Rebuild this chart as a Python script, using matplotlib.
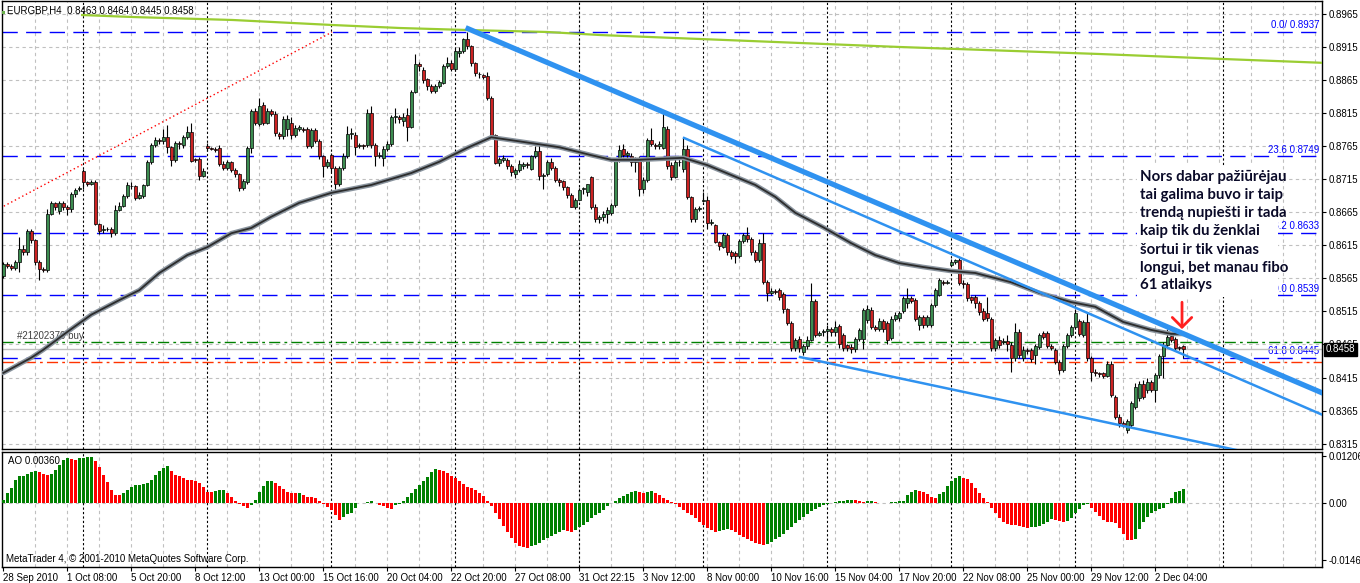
import numpy as np
import matplotlib
matplotlib.use("Agg")
import matplotlib.pyplot as plt
from matplotlib.patches import Rectangle

plt.rcParams['font.family'] = ['Liberation Sans', 'DejaVu Sans']

# ---- candle data, pips above 0.8000 (H4 bars, 28 Sep - 2 Dec 2010) ----
opens = [
    568, 587, 584, 581, 589, 609, 604, 636, 623, 590,
    579, 577, 662, 678, 666, 679, 673, 669, 692, 700,
    727, 710, 708, 711, 647, 638, 640, 640, 634, 668,
    674, 689, 704, 704, 687, 690, 706, 740, 767, 774,
    772, 779, 763, 743, 769, 766, 778, 786, 745, 745,
    720, 765, 762, 761, 762, 737, 731, 740, 729, 722,
    702, 710, 762, 818, 798, 827, 800, 817, 813, 783,
    780, 790, 800, 781, 791, 790, 790, 765, 789, 772,
    749, 734, 752, 731, 708, 731, 749, 783, 782, 765,
    766, 766, 814, 767, 750, 746, 760, 768, 808, 809,
    803, 812, 794, 847, 888, 880, 866, 855, 848, 855,
    860, 885, 890, 881, 905, 909, 926, 916, 890, 874,
    872, 870, 837, 782, 739, 744, 744, 735, 722, 728,
    735, 737, 730, 749, 758, 719, 722, 741, 732, 714,
    712, 703, 691, 673, 684, 700, 695, 718, 673, 655,
    657, 662, 663, 675, 744, 760, 752, 750, 740, 746,
    700, 713, 774, 767, 765, 762, 790, 736, 718, 741,
    730, 761, 688, 654, 670, 682, 684, 648, 645, 620,
    613, 630, 604, 603, 599, 622, 630, 624, 604, 593,
    619, 560, 543, 546, 547, 542, 518, 498, 459, 474,
    454, 462, 472, 530, 480, 484, 486, 488, 484, 493,
    479, 464, 461, 458, 473, 474, 502, 517, 492, 488,
    500, 497, 475, 504, 505, 515, 527, 535, 532, 494,
    507, 495, 494, 525, 540, 560, 558, 585, 590, 592,
    558, 556, 536, 536, 527, 516, 513, 504, 459, 472,
    468, 471, 464, 444, 484, 444, 457, 457, 449, 461,
    482, 482, 463, 457, 439, 426, 462, 479, 491, 500,
    479, 499, 444, 424, 422, 422, 418, 436, 386, 356,
    346, 336, 343, 371, 384, 406, 396, 409, 396, 419,
    447, 464, 478, 474, 461, 463]
closes = [
    587, 583, 581, 589, 609, 604, 636, 623, 590, 579,
    577, 662, 678, 673, 679, 673, 669, 692, 699, 701,
    710, 708, 710, 647, 636, 640, 639, 634, 668, 674,
    689, 706, 705, 687, 691, 706, 740, 767, 774, 773,
    778, 763, 744, 770, 768, 778, 786, 742, 744, 720,
    727, 762, 761, 759, 737, 731, 740, 729, 722, 702,
    712, 762, 818, 799, 825, 800, 817, 813, 784, 780,
    805, 806, 781, 792, 793, 789, 765, 789, 773, 749,
    734, 741, 731, 708, 731, 750, 783, 785, 764, 766,
    765, 814, 766, 750, 751, 760, 768, 808, 810, 806,
    809, 794, 847, 889, 886, 865, 855, 848, 855, 861,
    885, 890, 881, 908, 909, 926, 916, 890, 875, 873,
    869, 837, 782, 739, 745, 746, 735, 725, 728, 737,
    737, 736, 749, 758, 719, 721, 741, 732, 714, 710,
    703, 691, 673, 684, 698, 701, 707, 673, 655, 657,
    662, 668, 675, 744, 759, 751, 754, 740, 744, 700,
    713, 774, 768, 765, 768, 794, 734, 718, 741, 740,
    761, 688, 654, 669, 671, 684, 648, 650, 620, 614,
    630, 604, 599, 598, 622, 630, 624, 604, 593, 619,
    560, 543, 546, 545, 537, 518, 498, 459, 472, 459,
    462, 472, 530, 479, 483, 485, 488, 484, 492, 466,
    460, 460, 458, 473, 487, 517, 518, 492, 488, 500,
    488, 472, 504, 510, 512, 535, 535, 531, 504, 507,
    495, 506, 525, 547, 562, 558, 559, 590, 592, 558,
    556, 535, 532, 527, 514, 504, 505, 459, 472, 464,
    470, 465, 444, 484, 449, 457, 455, 443, 463, 479,
    477, 463, 460, 439, 426, 462, 479, 491, 512, 481,
    499, 444, 424, 422, 420, 418, 436, 389, 356, 346,
    344, 349, 376, 401, 406, 386, 409, 396, 419, 447,
    464, 477, 472, 460, 460, 458]
highs = [
    590, 590, 586, 592, 627, 615, 640, 640, 625, 592,
    582, 670, 682, 680, 682, 682, 676, 696, 702, 704,
    730, 712, 713, 714, 649, 645, 643, 642, 675, 680,
    693, 710, 710, 706, 695, 708, 744, 770, 778, 777,
    790, 797, 765, 773, 773, 781, 795, 800, 747, 748,
    731, 769, 764, 763, 766, 742, 744, 742, 732, 724,
    715, 765, 820, 822, 838, 832, 822, 820, 818, 786,
    810, 811, 808, 797, 797, 793, 794, 792, 792, 775,
    752, 745, 755, 735, 735, 755, 795, 792, 786, 770,
    768, 820, 825, 770, 756, 765, 772, 812, 822, 812,
    815, 822, 850, 904, 892, 884, 868, 858, 858, 864,
    888, 900, 895, 913, 915, 928, 937, 918, 892, 876,
    874, 877, 840, 783, 748, 751, 747, 738, 732, 744,
    741, 740, 752, 765, 770, 724, 744, 746, 735, 716,
    714, 705, 694, 686, 702, 703, 708, 720, 677, 660,
    666, 672, 678, 747, 766, 768, 758, 755, 748, 750,
    718, 777, 792, 770, 772, 817, 795, 740, 745, 746,
    778, 766, 690, 672, 674, 695, 690, 654, 647, 622,
    634, 633, 607, 606, 625, 634, 642, 627, 607, 625,
    634, 563, 550, 549, 550, 545, 520, 500, 475, 478,
    465, 478, 558, 533, 486, 489, 495, 492, 500, 496,
    482, 466, 465, 476, 490, 520, 525, 522, 494, 505,
    503, 500, 508, 514, 515, 538, 550, 538, 535, 510,
    510, 510, 528, 550, 565, 562, 562, 594, 594, 596,
    562, 559, 538, 540, 530, 520, 537, 506, 475, 478,
    475, 480, 468, 497, 488, 462, 460, 460, 466, 482,
    485, 485, 466, 460, 442, 466, 482, 494, 517, 503,
    502, 512, 447, 428, 424, 424, 440, 440, 389, 360,
    350, 352, 380, 407, 410, 412, 414, 412, 422, 451,
    468, 489, 481, 477, 463, 464]
lows = [
    565, 580, 578, 578, 575, 600, 600, 618, 585, 562,
    574, 574, 660, 668, 662, 668, 660, 665, 688, 697,
    700, 705, 706, 645, 632, 633, 636, 628, 630, 666,
    672, 687, 700, 684, 685, 686, 704, 737, 764, 768,
    768, 755, 735, 740, 760, 762, 775, 740, 740, 713,
    718, 758, 759, 756, 734, 728, 728, 725, 718, 697,
    698, 708, 755, 796, 795, 797, 798, 810, 780, 776,
    776, 780, 775, 778, 788, 786, 762, 762, 770, 745,
    718, 731, 725, 700, 705, 728, 747, 775, 752, 762,
    760, 763, 762, 735, 746, 735, 757, 765, 800, 800,
    795, 773, 792, 845, 878, 860, 850, 845, 845, 852,
    858, 882, 878, 878, 900, 905, 912, 886, 870, 868,
    866, 835, 780, 737, 735, 741, 730, 720, 716, 726,
    730, 732, 728, 747, 713, 700, 719, 728, 711, 704,
    699, 687, 672, 670, 683, 693, 690, 670, 650, 648,
    652, 648, 660, 672, 740, 748, 745, 735, 725, 690,
    694, 710, 765, 760, 760, 760, 730, 714, 716, 734,
    726, 685, 650, 650, 667, 680, 640, 645, 618, 608,
    610, 600, 594, 588, 596, 618, 620, 600, 590, 590,
    556, 530, 540, 541, 532, 513, 494, 455, 455, 454,
    449, 458, 470, 476, 478, 478, 470, 478, 478, 460,
    455, 455, 452, 454, 470, 458, 498, 488, 485, 485,
    484, 466, 472, 500, 500, 512, 520, 527, 500, 487,
    490, 492, 492, 522, 538, 555, 556, 583, 586, 555,
    550, 530, 528, 520, 510, 500, 500, 455, 455, 460,
    465, 455, 424, 440, 445, 440, 450, 438, 435, 458,
    474, 460, 456, 435, 420, 423, 459, 476, 488, 478,
    476, 440, 410, 418, 416, 414, 416, 386, 352, 340,
    340, 332, 340, 368, 380, 382, 392, 393, 378, 415,
    415, 460, 468, 456, 456, 445]

# Awesome Oscillator, in 1e-5
ao = [
    78, 269, 381, 581, 685, 702, 746, 789, 815, 789,
    746, 720, 746, 841, 988, 1118, 1162, 1140, 1118, 1150,
    1165, 1175, 1185, 1075, 928, 728, 529, 338, 208, 195,
    250, 321, 407, 451, 468, 478, 511, 598, 728, 815,
    902, 950, 815, 728, 685, 641, 600, 590, 555, 511,
    407, 295, 290, 320, 338, 345, 251, 147, 61, -26,
    -78, -139, -52, 78, 295, 442, 555, 560, 512, 425,
    355, 295, 250, 245, 255, 210, 165, 147, 120, 61,
    -35, -95, -182, -312, -442, -372, -286, -251, -139, -10,
    5, 35, 40, 0, -52, -70, -139, -165, -52,
    -20, 60, 150, 250, 350, 450, 560, 680, 800, 880,
    860, 820, 760, 700, 640, 560, 480, 420, 380, 330, 260, 180, 60, -80, -250,
    -420, -600, -760, -900, -1020, -1100, -1140, -1150,
    -1120, -1080, -1030, -960, -900, -850, -800, -760, -700, -720, -740, -690,
    -620, -560, -480, -400, -320, -250,
    -170, -90, -10, 60, 130, 190, 240, 280, 300, 280, 250, 270, 300, 260, 200,
    140, 80, 20, -40, -110, -180, -250, -320, -400, -480,
    -560, -640, -700, -740, -720, -690, -660, -700, -760, -820, -880, -940,
    -990, -1030, -1060, -1080, -1050, -1000, -940, -870, -790, -700,
    -610, -520, -430, -350, -280, -210, -150, -100, -60, -30, -5, 20, 40, 60,
    75, 85, 70, 50, 30, 40, 50, 30, 10, -10, 5, 20, 35, 45,
    61, 208, 295, 338, 312, 277, 234, 147, 120, 225, 295, 425, 555, 641, 685,
    641, 616, 511, 381, 251, 121, 35, -121, -251, -399, -485, -546, -572,
    -580, -590, -615, -633, -625, -620, -590, -530, -485, -425, -443, -468,
    -503, -460, -399, -269, -165, -52, -35, -121, -225, -338, -442, -485,
    -490, -529, -633, -789, -945, -962, -919, -659, -485, -355, -251, -208,
    -165, -140, -26, 121, 280, 320, 360]

# moving average (gray) read at bar positions
ma_idx = [0, 7, 10, 16, 22, 29, 34, 39, 46, 51, 57, 62, 67, 74, 82, 92, 102, 109,
          116, 122, 130, 139, 147, 152, 159, 170, 176, 182, 188, 193, 198, 205,
          212, 218, 224, 230, 237, 243, 252, 259, 267, 273, 280, 287, 292, 295]
ma_val = [422, 445, 457, 484, 510, 532, 547, 573, 600, 612, 633, 641, 658, 679,
          694, 706, 724, 741, 762, 778, 771, 763, 751, 744, 744, 747, 736, 721,
          706, 688, 664, 642, 618, 600, 588, 582, 576, 573, 559, 543, 529, 522,
          499, 487, 481, 481]

# long moving average (yellow-green)
slow_idx = [19.7, 32.4, 57.4, 82.4, 99.2, 115.9, 135.9, 149.2, 174.2, 186.7,
            224.2, 274.2, 304.9, 331.2]
slow_val = [962.7, 959.7, 955.2, 947.6, 943.1, 940.1, 937.1, 932.5, 926.5,
            923.5, 914.4, 903.8, 896.3, 890.2]

fib_levels = [0.8937, 0.8749, 0.8633, 0.8539, 0.8445]
fib_labels = ["0.0/ 0.8937", "23.6 0.8749", "38.2 0.8633", "50.0 0.8539", "61.8 0.8445"]

order_tp = 0.8468
order_open = 0.8438
bid = 0.8458

trend_thick = ([116.2, 329.7], [0.8942, 0.8392])
trend_upper = ([170.2, 329.7], [0.8777, 0.8359])
trend_lower = ([199.2, 329.7], [0.8446, 0.8278])
fib_diag = ([-0.8, 82.2], [0.8671, 0.8937])

separators = [20, 51, 82, 113, 144, 175, 206, 237, 268, 305]
time_ticks = list(range(0, 289, 16))
time_labels = ["28 Sep 2010", "1 Oct 08:00", "5 Oct 20:00", "8 Oct 12:00",
               "13 Oct 00:00", "15 Oct 16:00", "20 Oct 04:00", "22 Oct 20:00",
               "27 Oct 08:00", "31 Oct 22:15", "3 Nov 12:00", "8 Nov 00:00",
               "10 Nov 16:00", "15 Nov 04:00", "17 Nov 20:00", "22 Nov 08:00",
               "25 Nov 00:00", "29 Nov 12:00", "2 Dec 04:00"]
price_ticks = [0.8965, 0.8915, 0.8865, 0.8815, 0.8765, 0.8715, 0.8665, 0.8615,
               0.8565, 0.8515, 0.8465, 0.8415, 0.8365, 0.8315]
ao_ticks = [0.01206, 0.0, -0.01464]
ao_tick_labels = ["0.01206", "0.00", "-0.01464"]

note = ["Nors dabar pažiūrėjau", "tai galima buvo ir taip", "trendą nupiešti ir tada",
        "kaip tik du ženklai", "šortui ir tik vienas", "longui, bet manau fibo",
        "61 atlaikys"]

# ---------------------------------------------------------------
W, H = 1360, 583
def fx(px):
    return px / W
def fy(py):
    return 1 - py / H

def pip(v):
    return 0.8 + np.asarray(v, dtype=float) / 10000

o, c, hi, lo = pip(opens), pip(closes), pip(highs), pip(lows)
x = np.arange(len(o))

fig = plt.figure(figsize=(13.6, 5.83), dpi=100)
ax = fig.add_axes([fx(1.7), fy(449), fx(1322) - fx(1.7), fy(1) - fy(449)])
ax2 = fig.add_axes([fx(1.7), fy(566.5), fx(1322) - fx(1.7), fy(451.5) - fy(566.5)], sharex=ax)

grid_kw = dict(color='#c0c0c0', lw=0.8, linestyle=(0, (3, 3)), zorder=0)
for a in (ax, ax2):
    for k in range(8, 330, 8):
        a.axvline(k, **grid_kw)
    for s in separators:
        a.axvline(s, color='black', lw=0.8, linestyle=(0, (2, 2)), zorder=1)
    for sp in a.spines.values():
        sp.set_color('black')
        sp.set_linewidth(1)

for p in price_ticks:
    ax.axhline(p, **grid_kw)
ax2.axhline(0, **grid_kw)

# fib levels
for lv, lb in zip(fib_levels, fib_labels):
    ax.axhline(lv, color='#0000ff', lw=1, linestyle=(0, (11, 6)), zorder=2)
    ax.text(329.0, lv + 0.0003, lb, color='#0000ff', fontsize=7, ha='right', va='bottom', zorder=2)

ax.axhline(order_tp, color='#008000', lw=1, linestyle=(0, (8, 3, 2, 3)), zorder=2)
ax.axhline(bid, color='#c0c0c0', lw=1, zorder=2)
ax.axhline(order_open, color='#ff3300', lw=1, linestyle=(0, (8, 3, 2, 3)), zorder=2)
ax.text(3.5, order_tp + 0.0003, "#21202370 buy", fontsize=7, color='#404040', va='bottom', zorder=2)

ax.plot(*fib_diag, color='red', lw=1, linestyle=(0, (1, 2)), zorder=2)
ax.plot(slow_idx, pip(slow_val), color='#9acd32', lw=1.6, zorder=3)

# candles
up = c >= o
ax.vlines(x, lo, hi, color='black', lw=0.8, zorder=4)
body = np.maximum(np.abs(c - o), 0.00004)
ax.bar(x, body, bottom=np.minimum(o, c), width=0.72,
       color=np.where(up, '#3c8c50', '#cc2222'), edgecolor='black', linewidth=0.5, zorder=5)

ax.plot(ma_idx, pip(ma_val), color='#8a949e', lw=3.4, zorder=6, solid_capstyle='round')
ax.plot(ma_idx, pip(ma_val), color='#2c2c2c', lw=1.3, zorder=7)

ax.plot(*trend_thick, color='#2f92f0', lw=3.8, zorder=8)
ax.plot(*trend_upper, color='#2f92f0', lw=1.8, zorder=8)
ax.plot(*trend_lower, color='#2f92f0', lw=1.8, zorder=8)

ax.annotate('', xy=(294.7, 0.8484), xytext=(294.7, 0.8533),
            arrowprops=dict(arrowstyle='->,head_length=0.7,head_width=0.7',
                            color='#ff2020', lw=2, mutation_scale=10), zorder=9)

ax.set_xlim(-0.4, 329.7)
ax.set_ylim(0.83071, 0.89839)
ax.yaxis.tick_right()
ax.set_yticks(price_ticks)
ax.set_yticklabels([f"{p:.4f}" for p in price_ticks])
ax.tick_params(axis='y', direction='out', length=3, pad=2, labelsize=7)
ax.tick_params(axis='x', bottom=False, labelbottom=False)

# AO panel
aov = np.array(ao) / 1e5
prev = np.concatenate([[aov[0] - 1], aov[:-1]])
ax2.bar(x, aov, width=0.75, color=np.where(aov > prev, '#008000', '#ff0000'), zorder=3)
ax2.set_ylim(-0.01638, 0.01326)
ax2.yaxis.tick_right()
ax2.set_yticks(ao_ticks)
ax2.set_yticklabels(ao_tick_labels)
ax2.tick_params(axis='y', direction='out', length=3, pad=2, labelsize=7)
ax2.set_xticks(time_ticks)
ax2.set_xticklabels(time_labels, ha='left')
ax2.tick_params(axis='x', direction='out', length=3, pad=2, labelsize=7)

# texts
fig.text(fx(7), fy(10.7), "EURGBP,H4  0.8463 0.8464 0.8445 0.8458", fontsize=7, va='center')
fig.patches.append(Rectangle((fx(2), fy(14)), fx(3), fy(11) - fy(14), transform=fig.transFigure,
                             facecolor='#6ab04c', edgecolor='none', figure=fig))
fig.text(fx(8), fy(461.5), "AO 0.00360", fontsize=7, va='center')
fig.text(fx(6), fy(558.5), "MetaTrader 4, © 2001-2010 MetaQuotes Software Corp.", fontsize=7, va='center')
fig.text(fx(1326), fy(349.5), f"{bid:.4f}", fontsize=7, color='white', va='center', ha='left',
         bbox=dict(facecolor='black', edgecolor='black', boxstyle='square,pad=0.2'))

fig.patches.append(Rectangle((fx(1137), fy(297)), fx(1278) - fx(1137), fy(166) - fy(297),
                             transform=fig.transFigure, facecolor='white', edgecolor='none',
                             figure=fig, zorder=2))
for k, line in enumerate(note):
    fig.text(fx(1140), fy(181.5 + 18 * k), line, fontsize=10.8, fontweight='bold',
             family=['Lato', 'DejaVu Sans'], color='#0a0a28', va='baseline', zorder=4)

fig.savefig("out.png", dpi=100, facecolor='white')
